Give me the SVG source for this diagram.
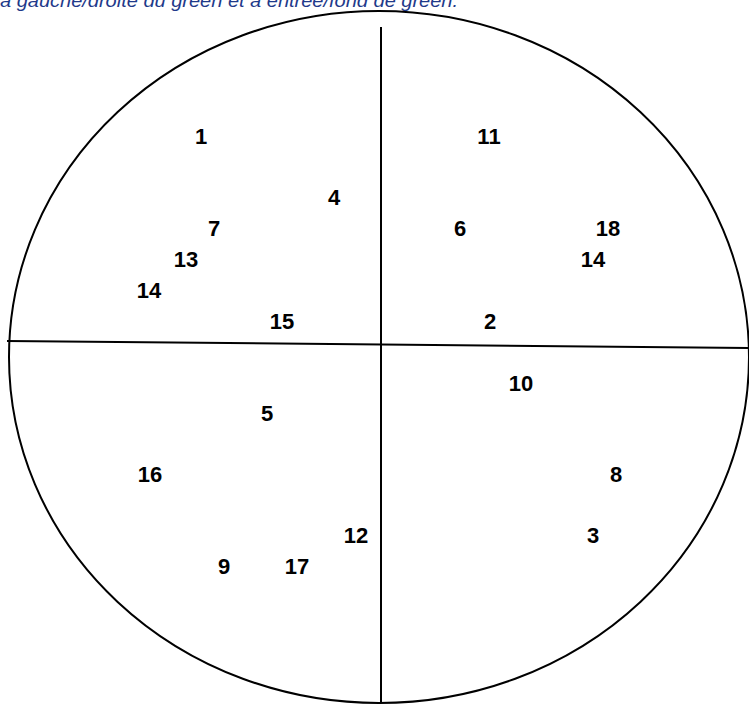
<svg xmlns="http://www.w3.org/2000/svg" width="749" height="705" viewBox="0 0 749 705">
<style>
.lbl{font-family:"Liberation Sans",Arial,sans-serif;font-weight:bold;font-size:22px;fill:#000;text-anchor:middle}
.cap{font-family:"Liberation Sans",Arial,sans-serif;font-style:italic;font-size:19px;fill:#1F3A8A}
.ln{stroke:#000;stroke-width:2;fill:none}
</style>
<rect width="749" height="705" fill="#fff"/>
<text class="cap" x="0" y="7" textLength="458" lengthAdjust="spacingAndGlyphs">à gauche/droite du green et à entrée/fond de green.</text>
<g id="connectors">
<ellipse class="ln" cx="379" cy="357" rx="370" ry="346"/>
<line class="ln" x1="381" y1="27" x2="381" y2="703"/>
<line class="ln" x1="7" y1="341" x2="749" y2="348"/>
</g>
<g id="n1"><text class="lbl" x="201" y="144">1</text></g>
<g id="n4"><text class="lbl" x="334" y="205">4</text></g>
<g id="n7"><text class="lbl" x="214" y="236">7</text></g>
<g id="n13"><text class="lbl" x="186" y="267">13</text></g>
<g id="n14a"><text class="lbl" x="149" y="298">14</text></g>
<g id="n15"><text class="lbl" x="282" y="329">15</text></g>
<g id="n11"><text class="lbl" x="489" y="144">11</text></g>
<g id="n6"><text class="lbl" x="460" y="236">6</text></g>
<g id="n18"><text class="lbl" x="608" y="236">18</text></g>
<g id="n14b"><text class="lbl" x="593" y="267">14</text></g>
<g id="n2"><text class="lbl" x="490" y="329">2</text></g>
<g id="n10"><text class="lbl" x="521" y="391">10</text></g>
<g id="n5"><text class="lbl" x="267" y="421">5</text></g>
<g id="n16"><text class="lbl" x="150" y="482">16</text></g>
<g id="n8"><text class="lbl" x="616" y="482">8</text></g>
<g id="n12"><text class="lbl" x="356" y="543">12</text></g>
<g id="n3"><text class="lbl" x="593" y="543">3</text></g>
<g id="n9"><text class="lbl" x="224" y="574">9</text></g>
<g id="n17"><text class="lbl" x="297" y="574">17</text></g>
</svg>
